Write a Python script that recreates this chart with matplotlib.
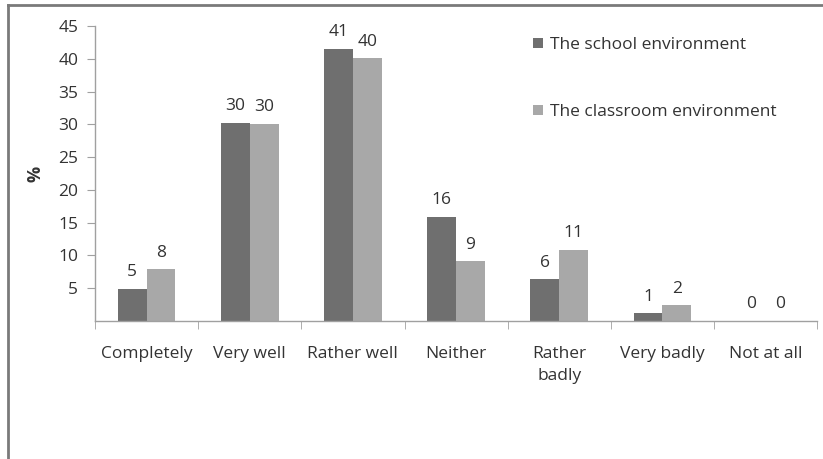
import matplotlib.pyplot as plt
import numpy as np
from matplotlib.lines import Line2D

categories = ['Completely', 'Very well', 'Rather well', 'Neither', 'Rather\nbadly', 'Very badly', 'Not at all']
school = [4.9, 30.2, 41.5, 15.9, 6.4, 1.2, 0.0]
classroom = [7.9, 30.1, 40.1, 9.1, 10.9, 2.4, 0.0]
school_labels = ['5', '30', '41', '16', '6', '1', '0']
classroom_labels = ['8', '30', '40', '9', '11', '2', '0']
yticks = [5, 10, 15, 20, 25, 30, 35, 40, 45]

plt.rcParams['font.family'] = ['Open Sans', 'DejaVu Sans']
text_color = '#333333'
axis_color = '#a0a0a0'
dark = '#6f6f6f'
light = '#a8a8a8'
fs = 12.5

fig = plt.figure(figsize=(8.23, 4.59), dpi=100)
ax = fig.add_axes([0.1154, 0.3007, 0.8776, 0.6427])

x = np.arange(len(categories))
w = 0.28
ax.bar(x - w / 2, school, width=w, color=dark, label='The school environment')
ax.bar(x + w / 2, classroom, width=w, color=light, label='The classroom environment')

for i in range(len(categories)):
    ax.text(x[i] - w / 2, school[i] + 1.3, school_labels[i], ha='center', va='bottom',
            fontsize=fs, color=text_color)
    ax.text(x[i] + w / 2, classroom[i] + 1.3, classroom_labels[i], ha='center', va='bottom',
            fontsize=fs, color=text_color)

ax.set_xlim(-0.5, len(categories) - 0.5)
ax.set_ylim(0, 45)
ax.set_yticks(yticks)
ax.set_yticklabels([str(t) for t in yticks], fontsize=fs, color=text_color)
ax.set_xticks(x)
ax.set_xticklabels(categories, fontsize=fs, color=text_color, linespacing=1.5)
ax.tick_params(axis='x', length=0, pad=18)
ax.set_xticks(np.arange(len(categories) + 1) - 0.5, minor=True)
ax.tick_params(axis='x', which='minor', length=6, color=axis_color, direction='out')
ax.tick_params(axis='y', length=6, color=axis_color, direction='out', pad=6)
ax.set_ylabel('%', fontsize=13, color=text_color, fontweight='bold', labelpad=10)

for s in ['top', 'right']:
    ax.spines[s].set_visible(False)
for s in ['left', 'bottom']:
    ax.spines[s].set_color(axis_color)
    ax.spines[s].set_linewidth(1.0)

ax.legend(loc='upper left', bbox_to_anchor=(0.585, 1.015), frameon=False, fontsize=fs,
          labelcolor=text_color, handlelength=0.55, handleheight=0.55, handletextpad=0.4,
          labelspacing=2.95)

# frame lines on the left and top edge of the picture
fig.add_artist(Line2D([0.0097, 0.0097], [0.0, 0.99], transform=fig.transFigure, color='#7a7a7a', lw=2))
fig.add_artist(Line2D([0.0097, 1.0], [0.99, 0.99], transform=fig.transFigure, color='#7a7a7a', lw=2))

fig.savefig('out.png', dpi=100)
